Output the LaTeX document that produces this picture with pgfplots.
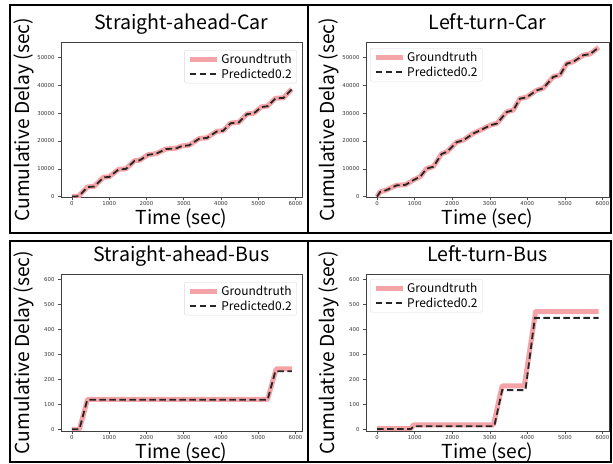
\documentclass[border=0pt]{standalone}
\usepackage{fontspec}
\setmainfont{Noto Sans CJK SC}
\newfontfamily\tickfont{DejaVu Sans}
\usepackage{pgfplots}
\pgfplotsset{compat=1.18}

\definecolor{gtpink}{RGB}{244,163,166}
\definecolor{predgray}{RGB}{38,38,38}

\pgfplotsset{
  panel/.style={
    scale only axis,
    xmin=-294, xmax=6174,
    xtick={0,1000,...,6000},
    tick align=outside, xtick pos=left, ytick pos=left,
    major tick length=3bp,
    tick style={black!70, line width=0.5bp},
    axis line style={black!75, line width=0.6bp},
    tick label style={font=\tickfont\fontsize{5.4}{6}\selectfont, black!80},
    xticklabel style={inner sep=1bp},
    /pgf/number format/assume math mode=true,
    /pgf/number format/1000 sep={},
    scaled ticks=false,
    title style={font=\fontsize{19.7}{23}\selectfont, at={(0.5,1)}, anchor=base, yshift=7bp},
    label style={font=\fontsize{19.3}{22}\selectfont},
    xlabel={Time (sec)},
    ylabel={Cumulative Delay (sec)},
    xlabel style={at={(axis description cs:0.5,0)}, anchor=base, yshift=-27.5bp, inner sep=0pt},
    ylabel style={at={(axis description cs:-0.152,0.5)}, anchor=center},
    legend style={font=\fontsize{12}{14}\selectfont, draw=black!15, rounded corners=2bp,
      fill=white, inner xsep=3bp, inner ysep=1.5bp, cells={anchor=west}},
    legend image code/.code={\draw[#1] (0bp,0bp) -- (27bp,0bp);},
  },
  carpanel/.style={panel, width=241bp, height=155.5bp,
    ymin=-300, ymax=55500, ytick={0,10000,...,50000}},
  buspanel/.style={panel, width=241bp, height=157bp,
    ymin=-7, ymax=623, ytick={0,100,...,600}},
  gt/.style={gtpink, line width=5bp, line join=round},
  pred/.style={predgray, line width=1.8bp, dash pattern=on 6.5bp off 3.5bp},
}

\begin{document}
\begin{tikzpicture}
\useasboundingbox (0,0) rectangle (613bp,464bp);

% panel frames
\draw[line width=2.5bp] (10bp,231bp) rectangle (611bp,459bp);
\draw[line width=2.5bp] (308bp,231bp) -- (308bp,459bp);
\draw[line width=2.5bp] (10bp,2bp) rectangle (611bp,223bp);
\draw[line width=2.5bp] (308bp,2bp) -- (308bp,223bp);

% Straight-ahead car
\begin{axis}[carpanel, at={(61bp,266.5bp)}, anchor=south west,
  title={Straight-ahead-Car},
  legend style={at={(0.979,0.949)}, anchor=north east}]
\addplot[gt] coordinates {
 (0,0) (180,200) (420,3500) (600,3700) (850,7000) (1000,7100) (1250,9800)
 (1450,10000) (1680,12900) (1820,13100) (2050,15100) (2250,15400) (2520,17100)
 (2800,17400) (2950,18200) (3150,18500) (3420,20900) (3620,21100) (3880,23400)
 (4060,23700) (4260,26400) (4480,26700) (4700,29700) (4880,29900) (5080,32200)
 (5250,32500) (5460,35300) (5680,35500) (5900,38600)};
\addlegendentry{Groundtruth}
\addplot[pred] coordinates {
 (0,0) (180,150) (420,3450) (600,3650) (850,6950) (1000,7050) (1250,9750)
 (1450,9950) (1680,12850) (1820,13050) (2050,15050) (2250,15350) (2520,17050)
 (2800,17350) (2950,18150) (3150,18450) (3420,20850) (3620,21050) (3880,23350)
 (4060,23650) (4260,26350) (4480,26650) (4700,29650) (4880,29850) (5080,32150)
 (5250,32450) (5460,35250) (5680,35450) (5900,38550)};
\addlegendentry{Predicted0.2}
\end{axis}

% Left-turn car
\begin{axis}[carpanel, width=243bp, at={(366bp,266.5bp)}, anchor=south west,
  title={Left-turn-Car},
  legend style={at={(0.0165,0.961)}, anchor=north west}]
\addplot[gt] coordinates {
 (0,0) (80,1700) (250,2400) (520,4100) (760,4300) (970,6000) (1150,7200)
 (1320,10100) (1500,10800) (1720,15400) (1860,16100) (2120,19600) (2300,20300)
 (2560,22700) (2830,24400) (3000,25600) (3190,26300) (3450,30400) (3630,31100)
 (3800,35200) (3980,35700) (4250,38200) (4420,38900) (4690,43000) (4870,43700)
 (5050,47800) (5220,48400) (5490,50800) (5670,51200) (5900,53600)};
\addlegendentry{Groundtruth}
\addplot[pred] coordinates {
 (0,0) (80,1650) (250,2350) (520,4050) (760,4250) (970,5950) (1150,7150)
 (1320,10050) (1500,10750) (1720,15350) (1860,16050) (2120,19550) (2300,20250)
 (2560,22650) (2830,24350) (3000,25550) (3190,26250) (3450,30350) (3630,31050)
 (3800,35150) (3980,35650) (4250,38150) (4420,38850) (4690,42950) (4870,43650)
 (5050,47750) (5220,48350) (5490,50750) (5670,51150) (5900,53550)};
\addlegendentry{Predicted0.2}
\end{axis}

% Straight-ahead bus
\begin{axis}[buspanel, at={(61bp,33bp)}, anchor=south west,
  title={Straight-ahead-Bus},
  legend style={at={(0.979,0.949)}, anchor=north east}]
\addplot[gt] coordinates {
 (0,0) (200,0) (420,120) (5250,120) (5480,242) (5900,242)};
\addlegendentry{Groundtruth}
\addplot[pred] coordinates {
 (0,0) (200,0) (410,118) (5250,118) (5460,233) (5900,233)};
\addlegendentry{Predicted0.2}
\end{axis}

% Left-turn bus
\begin{axis}[buspanel, width=243bp, at={(366bp,33bp)}, anchor=south west,
  title={Left-turn-Bus},
  legend style={at={(0.0165,0.968)}, anchor=north west}]
\addplot[gt] coordinates {
 (0,3) (900,3) (980,18) (3100,18) (3330,174) (3920,174) (4220,472) (5900,472)};
\addlegendentry{Groundtruth}
\addplot[pred] coordinates {
 (0,1) (900,1) (980,12) (3120,12) (3330,157) (3950,157) (4200,447) (5900,447)};
\addlegendentry{Predicted0.2}
\end{axis}
\end{tikzpicture}
\end{document}
